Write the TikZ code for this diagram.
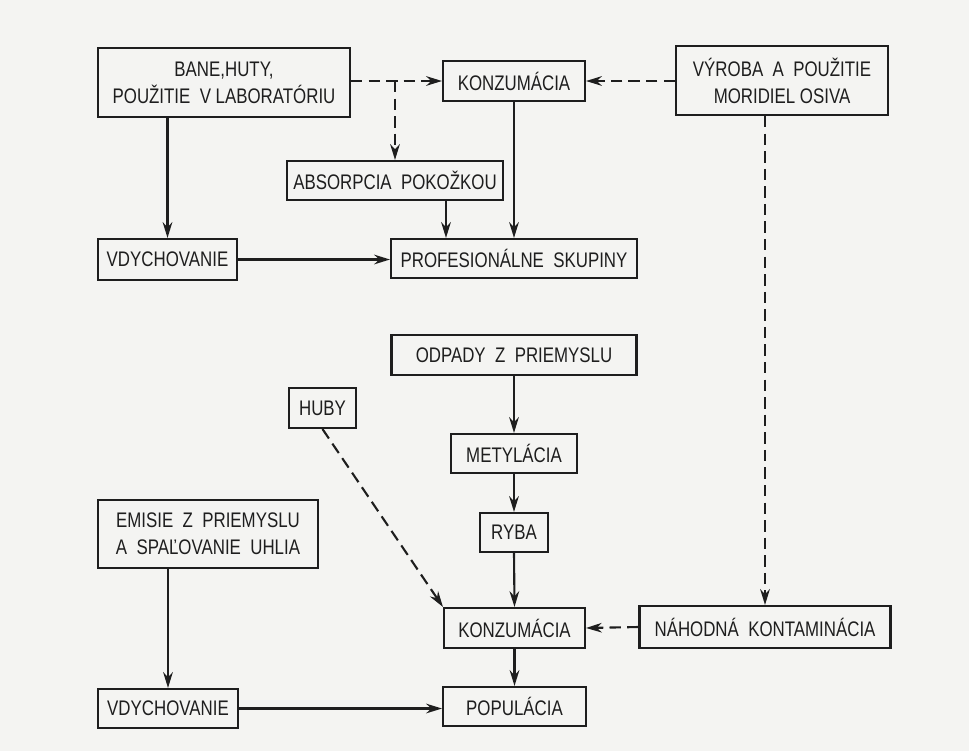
\documentclass[tikz,border=0pt]{standalone}
\usepackage{fontspec}
\usepackage{tikz}
\usetikzlibrary{arrows.meta}
\newfontfamily\boxfont{Liberation Sans}[FakeStretch=0.8]
\definecolor{Paper}{HTML}{F4F4F2}
\definecolor{Ink}{HTML}{1E1E1E}

\begin{document}
\begin{tikzpicture}[x=0.02cm,y=-0.02cm,>={Stealth[length=9pt,width=5.5pt]},line width=1.2pt,draw=Ink]
\tikzstyle{box}=[rectangle,draw=Ink,line width=1.2pt,inner sep=0pt,align=center,text=Ink,font=\boxfont\fontsize{12}{15.5}\selectfont]
\tikzstyle{flow}=[->,draw=Ink,line width=1.2pt]
\tikzstyle{maybe}=[->,draw=Ink,line width=1.2pt,dash pattern=on 6.5pt off 3.5pt]
\fill[Paper] (0,0) rectangle (969,751);
\useasboundingbox (0,0) rectangle (969,751);
% occupational exposure
\node[box,minimum width=5.04cm,minimum height=1.38cm] (bane) at (224,82.5) {BANE,HUTY,\\POUŽITIE \ V LABORATÓRIU};
\node[box,minimum width=2.84cm,minimum height=0.8cm] (konz1) at (514,81) {KONZUMÁCIA};
\node[box,minimum width=4.24cm,minimum height=1.38cm] (vyroba) at (782,80.5) {VÝROBA \ A \ POUŽITIE\\MORIDIEL OSIVA};
\node[box,minimum width=4.32cm,minimum height=0.78cm] (absorb) at (395,180.5) {ABSORPCIA \ POKOŽKOU};
\node[box,minimum width=2.78cm,minimum height=0.82cm] (vdych1) at (167.5,259.5) {VDYCHOVANIE};
\node[box,minimum width=4.92cm,minimum height=0.78cm] (prof) at (514,258.5) {PROFESIONÁLNE \ SKUPINY};
% general population
\node[box,minimum width=4.9cm,minimum height=0.8cm] (odpad) at (514,355) {ODPADY \ Z \ PRIEMYSLU};
\node[box,minimum width=1.34cm,minimum height=0.8cm] (huby) at (322.5,408) {HUBY};
\node[box,minimum width=2.52cm,minimum height=0.78cm] (metyl) at (514,453.5) {METYLÁCIA};
\node[box,minimum width=1.36cm,minimum height=0.78cm] (ryba) at (514,532.5) {RYBA};
\node[box,minimum width=4.4cm,minimum height=1.36cm] (emis) at (208,534) {EMISIE \ Z \ PRIEMYSLU\\A \ SPAĽOVANIE \ UHLIA};
\node[box,minimum width=2.82cm,minimum height=0.8cm] (konz2) at (514.5,628) {KONZUMÁCIA};
\node[box,minimum width=5.02cm,minimum height=0.84cm] (nahod) at (765,627) {NÁHODNÁ \ KONTAMINÁCIA};
\node[box,minimum width=2.8cm,minimum height=0.78cm] (vdych2) at (168,708.5) {VDYCHOVANIE};
\node[box,minimum width=2.86cm,minimum height=0.78cm] (popul) at (514.5,706.5) {POPULÁCIA};
% connectors, top
\draw[maybe] (bane.east |- konz1) -- (konz1.west);
\draw[maybe] (absorb.north |- konz1.west) -- (absorb.north);
\draw[maybe] (vyroba.west |- konz1) -- (konz1.east);
\draw[flow] (vdych1.north |- bane.south) -- (vdych1.north);
\draw[flow] (konz1.south) -- (prof.north);
\coordinate (skin) at ([xshift=1.02cm]absorb.south);
\draw[flow] (skin) -- (skin |- prof.north);
\draw[flow] (vdych1.east) -- (vdych1.east -| prof.west);
% connectors, bottom
\draw[flow] (odpad.south) -- (metyl.north);
\draw[flow] (metyl.south) -- (ryba.north);
\draw[flow] (ryba.south) -- (konz2.north);
\draw[flow] (konz2.south) -- (popul.north);
\draw[maybe] (huby.south) -- (konz2.north west);
\draw[maybe] (nahod.north |- vyroba.south) -- (nahod.north);
\draw[maybe] (nahod.west) -- (konz2.east);
\draw[flow] (vdych2.north |- emis.south) -- (vdych2.north);
\draw[flow] (vdych2.east) -- (vdych2.east -| popul.west);
\end{tikzpicture}
\end{document}
